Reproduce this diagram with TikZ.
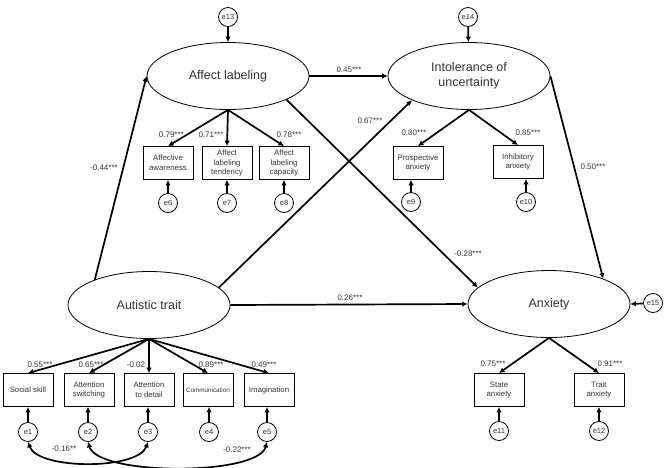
\documentclass[tikz,border=0pt]{standalone}
\usepackage{fontspec}
\setmainfont{Liberation Sans}
\usetikzlibrary{shapes.geometric,arrows.meta}
\definecolor{txt}{HTML}{333333}
\tikzset{
  latent/.style={ellipse,draw,line width=0.8pt,minimum width=162pt,minimum height=67pt,inner sep=0pt,align=center,font=\fontsize{12.5}{15}\selectfont,text=txt},
  obs/.style={rectangle,draw,line width=0.8pt,minimum width=50pt,minimum height=33pt,inner sep=0pt,align=center,font=\fontsize{7.8}{9.8}\selectfont,text=txt},
  err/.style={circle,draw,line width=0.8pt,minimum size=19pt,inner sep=0pt,font=\fontsize{7.5}{9}\selectfont,text=txt},
  path/.style={line width=1.7pt,-{Latex[length=5.5pt,width=5.5pt]}},
  cov/.style={line width=1.7pt,{Latex[length=5.5pt,width=5.5pt]}-{Latex[length=5.5pt,width=5.5pt]}},
  coef/.style={font=\fontsize{8}{9}\selectfont,text=txt,inner sep=1pt},
}
\begin{document}
\begin{tikzpicture}[x=1pt,y=-1pt]
\useasboundingbox (0,0) rectangle (669,467);
% latent variables
\node[latent] (al) at (228,76) {Affect labeling};
\node[latent] (iu) at (469,76) {Intolerance of\\uncertainty};
\node[latent] (aut) at (149,305) {Autistic trait};
\node[latent] (anx) at (549,304) {Anxiety};
% disturbances
\node[err] (e13) at (228,17) {e13};
\node[err] (e14) at (468,17) {e14};
\node[err] (e15) at (653,303) {e15};
\draw[path] (e13) -- (al);
\draw[path] (e14) -- (iu);
\draw[path] (e15) -- (anx.east);
% affect labeling indicators
\node[obs] (aw) at (168,163) {Affective\\awareness};
\node[obs] (alt) at (227,163) {Affect\\labeling\\tendency};
\node[obs] (alc) at (284,163) {Affect\\labeling\\capacity};
\node[err] (e6) at (168,203) {e6};
\node[err] (e7) at (227,203) {e7};
\node[err] (e8) at (284,203) {e8};
\draw[path] (al.south) -- (aw.north);
\draw[path] (al.south) -- (alt.north);
\draw[path] (al.south) -- (alc.north);
\draw[path] (e6) -- (aw);
\draw[path] (e7) -- (alt);
\draw[path] (e8) -- (alc);
\node[coef,anchor=east] at (185,135) {0.79***};
\node[coef] at (211,135) {0.71***};
\node[coef] at (289,135) {0.78***};
% intolerance indicators
\node[obs] (pa) at (418,163) {Prospective\\anxiety};
\node[obs] (ia) at (518,162) {Inhibitory\\anxiety};
\node[err] (e9) at (411,202) {e9};
\node[err] (e10) at (526,202) {e10};
\draw[path] (iu.south) -- (pa.north);
\draw[path] (iu.south) -- (ia.north);
\draw[path] (e9) -- (e9 |- pa.south);
\draw[path] (e10) -- (e10 |- ia.south);
\node[coef] at (414,133) {0.80***};
\node[coef] at (528,133) {0.85***};
% anxiety indicators
\node[obs] (sa) at (499,390) {State\\anxiety};
\node[obs] (ta) at (599,390) {Trait\\anxiety};
\node[err] (e11) at (499,431) {e11};
\node[err] (e12) at (599,431) {e12};
\draw[path] (anx.south) -- (sa.north);
\draw[path] (anx.south) -- (ta.north);
\draw[path] (e11) -- (sa);
\draw[path] (e12) -- (ta);
\node[coef] at (493,364) {0.75***};
\node[coef] at (610,364) {0.91***};
% autistic trait indicators
\node[obs] (ss) at (28,390) {Social skill};
\node[obs] (as) at (89,390) {Attention\\switching};
\node[obs] (ad) at (149,390) {Attention\\to detail};
\node[obs,font=\fontsize{6.3}{8}\selectfont] (co) at (208,390) {Communication};
\node[obs] (im) at (269,390) {Imagination};
\node[err] (e1) at (28,432) {e1};
\node[err] (e2) at (88,432) {e2};
\node[err] (e3) at (148,432) {e3};
\node[err] (e4) at (209,432) {e4};
\node[err] (e5) at (267,432) {e5};
\draw[path] (aut.south) -- (ss.north);
\draw[path] (aut.south) -- (as.north);
\draw[path] (aut.south) -- (ad.north);
\draw[path] (aut.south) -- (co.north);
\draw[path] (aut.south) -- (im.north);
\draw[path] (e1) -- (e1 |- ss.south);
\draw[path] (e2) -- (e2 |- as.south);
\draw[path] (e3) -- (e3 |- ad.south);
\draw[path] (e4) -- (e4 |- co.south);
\draw[path] (e5) -- (e5 |- im.south);
\node[coef] at (40,365) {0.55***};
\node[coef] at (91,365) {0.65***};
\node[coef] at (136,365) {-0.02};
\node[coef] at (211,365) {0.89***};
\node[coef] at (264,365) {0.49***};
% covariances
\draw[cov] (e1.south) .. controls (38,470) and (138,470) .. (e3.south);
\draw[cov] (e2.south) .. controls (98,476) and (258,476) .. (e5.south);
\node[coef] at (64,449) {-0.16**};
\node[coef] at (237,450) {-0.22***};
% structural paths
\draw[path] (aut.155) -- (al.west);
\draw[path] (aut.14) -- (iu.203);
\draw[path] (aut.east) -- (anx.west);
\draw[path] (al.east) -- (iu.west);
\draw[path] (al.-22) -- (anx.167);
\draw[path] (iu.east) -- (anx.25);
\node[coef] at (104,168) {-0.44***};
\node[coef] at (370,121) {0.67***};
\node[coef] at (349,70) {0.45***};
\node[coef] at (468,254) {-0.28***};
\node[coef] at (593,167) {0.50***};
\node[coef] at (350,298) {0.26***};
\end{tikzpicture}
\end{document}
